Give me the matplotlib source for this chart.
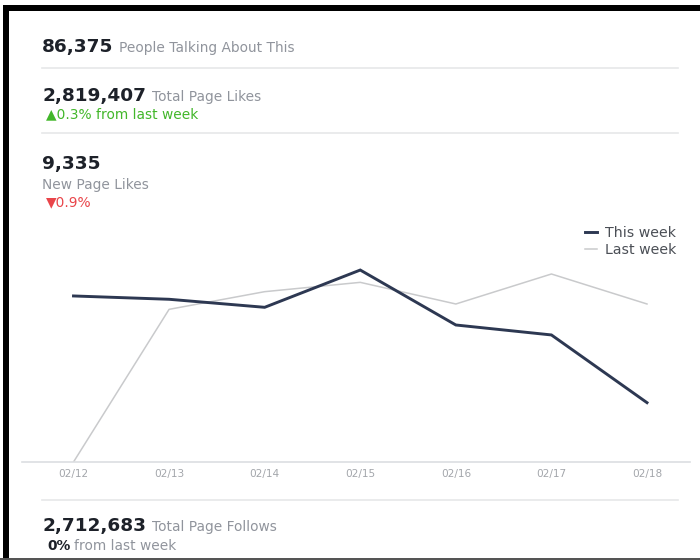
import matplotlib
matplotlib.use("Agg")
import matplotlib.pyplot as plt
from matplotlib.lines import Line2D
from matplotlib.patches import Rectangle

# ---- data ----
dates = ["02/12", "02/13", "02/14", "02/15", "02/16", "02/17", "02/18"]
this_week = [1550, 1519, 1444, 1792, 1279, 1186, 554]
last_week = [0, 1425, 1590, 1677, 1475, 1755, 1475]
series_labels = ["This week", "Last week"]

talking_value = "86,375"
talking_label = "People Talking About This"
likes_value = "2,819,407"
likes_label = "Total Page Likes"
likes_change = "\u25B20.3% from last week"
new_likes_value = "9,335"
new_likes_label = "New Page Likes"
new_likes_change = "\u25BC0.9%"
follows_value = "2,712,683"
follows_label = "Total Page Follows"
follows_change_bold = "0%"
follows_change_rest = "from last week"

W, H = 700, 560
DARK = "#1d2129"
GREY = "#90949c"
NAVY = "#2d3852"
LIGHT = "#c9cacc"
SEP = "#e6e7e9"
SMALL = 9.9

plt.rcParams["font.family"] = ["DejaVu Sans"]
fig = plt.figure(figsize=(W / 100, H / 100), dpi=100)
fig.patch.set_facecolor("white")


def fx(x):
    return x / W


def fy(y):
    return 1 - y / H


renderer = fig.canvas.get_renderer()


def text_px(x, y, s, **kw):
    return fig.text(fx(x), fy(y), s, va="baseline", ha="left", **kw)


def width_px(t):
    return t.get_window_extent(renderer=renderer).width


def pair(x, y, big, small, gap=6):
    t = text_px(x, y, big, fontsize=13.3, fontweight="bold", color=DARK)
    w = width_px(t)
    text_px(x + w + gap, y, small, fontsize=SMALL, color=GREY)


# borders
fig.patches.append(Rectangle((fx(3), fy(11)), fx(697), 6 / H, transform=fig.transFigure,
                             facecolor="black", edgecolor="none", zorder=10))
fig.patches.append(Rectangle((fx(3), 0), 6 / W, fy(5), transform=fig.transFigure,
                             facecolor="black", edgecolor="none", zorder=10))
fig.patches.append(Rectangle((0, 0), 1, 2 / H, transform=fig.transFigure,
                             facecolor="#555555", edgecolor="none", zorder=10))

# separators
for yy in (68, 133, 500):
    fig.add_artist(Line2D([fx(42), fx(678)], [fy(yy), fy(yy)], color=SEP, lw=1.2,
                          transform=fig.transFigure))

# header texts
pair(42, 52, talking_value, talking_label)
pair(42, 101, likes_value, likes_label)
text_px(46, 118, likes_change, fontsize=SMALL, color="#42b72a")
text_px(42, 169, new_likes_value, fontsize=13.3, fontweight="bold", color=DARK)
text_px(42, 189, new_likes_label, fontsize=SMALL, color=GREY)
text_px(46, 206, new_likes_change, fontsize=SMALL, color="#e9454a")

# footer texts
pair(42, 531, follows_value, follows_label)
t0 = text_px(47, 550, follows_change_bold, fontsize=SMALL, fontweight="bold", color=DARK)
text_px(47 + width_px(t0) + 4, 550, follows_change_rest, fontsize=SMALL, color=GREY)

# chart
left, right, top, bottom = 22, 690, 215, 462
ax = fig.add_axes([fx(left), fy(bottom), (right - left) / W, (bottom - top) / H])
xs = list(range(len(dates)))
ax.plot(xs, last_week, color=LIGHT, lw=1.1, label=series_labels[1], zorder=2)
ax.plot(xs, this_week, color=NAVY, lw=2.1, label=series_labels[0], zorder=3,
        solid_joinstyle="miter")
unit = (647 - 73.5) / 6
ax.set_xlim(-(73.5 - left) / unit, 6 + (right - 647) / unit)
ax.set_ylim(0, (bottom - top) * 9.335)
ax.set_xticks(xs)
ax.set_xticklabels(dates, fontsize=7.6, color="#a3a6ab")
ax.tick_params(axis="x", length=0, pad=5)
ax.set_yticks([])
for s in ("top", "left", "right"):
    ax.spines[s].set_visible(False)
ax.spines["bottom"].set_color("#dcdee1")
ax.spines["bottom"].set_linewidth(1.2)
ax.set_facecolor("none")

handles, labels = ax.get_legend_handles_labels()
order = [1, 0]
leg = fig.legend([handles[i] for i in order], [labels[i] for i in order],
                 loc="upper right", bbox_to_anchor=(fx(683), fy(219)),
                 frameon=False, fontsize=10.2, handlelength=0.85, handletextpad=0.55,
                 labelspacing=0.2, borderpad=0, labelcolor="#4b4f56")

fig.savefig("out.png", dpi=100, facecolor="white")
